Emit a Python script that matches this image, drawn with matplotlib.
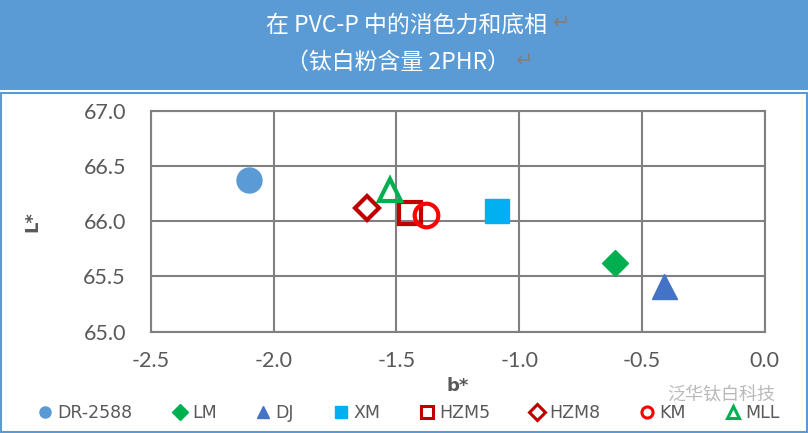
import matplotlib.pyplot as plt
from matplotlib.patches import Rectangle
from matplotlib.lines import Line2D

# data (b*, L*)
names = ['DR-2588', 'LM', 'DJ', 'XM', 'HZM5', 'HZM8', 'KM', 'MLL']
b_vals = [-2.10, -0.61, -0.41, -1.09, -1.445, -1.62, -1.38, -1.525]
L_vals = [66.37, 65.62, 65.41, 66.09, 66.07, 66.12, 66.06, 66.28]

# style per series: marker, colour, filled
markers = ['o', 'D', '^', 's', 's', 'D', 'o', '^']
colors = ['#5B9BD5', '#00B050', '#4472C4', '#00B0F0', '#C00000', '#C00000', '#FF0000', '#00B050']
filled = [True, True, True, True, False, False, False, False]
sizes = [18, 13, 18, 17, 16, 12, 17, 16]

xticks = [-2.5, -2.0, -1.5, -1.0, -0.5, 0.0]
yticks = [65.0, 65.5, 66.0, 66.5, 67.0]

title1 = '在 PVC-P 中的消色力和底相'
title2 = '（钛白粉含量 2PHR）'
watermark = '泛华钛白科技'

W, H = 808, 433
grey = '#595959'
cjk = ['Noto Sans CJK SC', 'DejaVu Sans']

fig = plt.figure(figsize=(W / 100, H / 100), dpi=100)

# header band and outer border
fig.patches.append(Rectangle((0, 1 - 90 / H), 1, 90 / H, transform=fig.transFigure,
                             facecolor='#5B9BD5', edgecolor='none', zorder=0))
fig.patches.append(Rectangle((1 / W, 1 / H), 1 - 2 / W, (H - 94) / H, transform=fig.transFigure,
                             facecolor='none', edgecolor='#5B9BD5', lw=1.5, zorder=0))

fig.text(406 / W, 1 - 25 / H, title1, ha='center', va='center', color='white',
         fontsize=16.5, family=cjk)
fig.text(562 / W, 1 - 23 / H, '↵', ha='center', va='center', color='#808080',
         fontsize=15, family=['DejaVu Sans'])
fig.text(398 / W, 1 - 62 / H, title2, ha='center', va='center', color='white',
         fontsize=16.5, family=cjk)
fig.text(525 / W, 1 - 61 / H, '↵', ha='center', va='center', color='#808080',
         fontsize=15, family=['DejaVu Sans'])

ax = fig.add_axes([151 / W, 1 - 331.7 / H, (764.7 - 151) / W, (331.7 - 110.7) / H])
for i in range(len(names)):
    if filled[i]:
        ax.plot(b_vals[i], L_vals[i], marker=markers[i], ms=sizes[i], color=colors[i],
                mec=colors[i], ls='none', label=names[i], zorder=3)
    else:
        ax.plot(b_vals[i], L_vals[i], marker=markers[i], ms=sizes[i], mfc='none',
                mec=colors[i], mew=3, ls='none', label=names[i], zorder=3)

ax.set_xlim(-2.5, 0.0)
ax.set_ylim(65.0, 67.0)
ax.set_xticks(xticks)
ax.set_yticks(yticks)
ax.set_xticklabels([f'{v:.1f}' for v in xticks])
ax.set_yticklabels([f'{v:.1f}' for v in yticks])
ax.grid(True, color='#808080', lw=1.5)
ax.set_axisbelow(True)
for s in ax.spines.values():
    s.set_color('#808080')
    s.set_linewidth(1.5)
ax.tick_params(length=0, labelsize=15.5, labelcolor=grey)
ax.tick_params(axis='x', pad=14)
ax.tick_params(axis='y', pad=18)
for lab in ax.get_xticklabels() + ax.get_yticklabels():
    lab.set_family('Lato')

ax.set_xlabel('b*', fontsize=13, fontweight='bold', color=grey, labelpad=4)
ax.set_ylabel('L*', fontsize=13, fontweight='bold', color=grey, labelpad=30)

handles = []
for i in range(len(names)):
    if filled[i]:
        h = Line2D([], [], marker=markers[i], ms=8, color=colors[i], ls='none')
    else:
        h = Line2D([], [], marker=markers[i], ms=8, mfc='none', mec=colors[i], mew=2.2, ls='none')
    handles.append(h)
leg = fig.legend(handles, names, loc='center', bbox_to_anchor=(0.505, 1 - 413 / H), ncol=8,
                 frameon=False, fontsize=12.5, handletextpad=0.2, columnspacing=2.2,
                 handlelength=1.0)
for t in leg.get_texts():
    t.set_color(grey)

fig.text(667 / W, 1 - 396 / H, watermark, ha='left', va='center', color='#a8a8a8',
         fontsize=13, family=cjk, alpha=0.8)

fig.savefig('out.png', dpi=100)
